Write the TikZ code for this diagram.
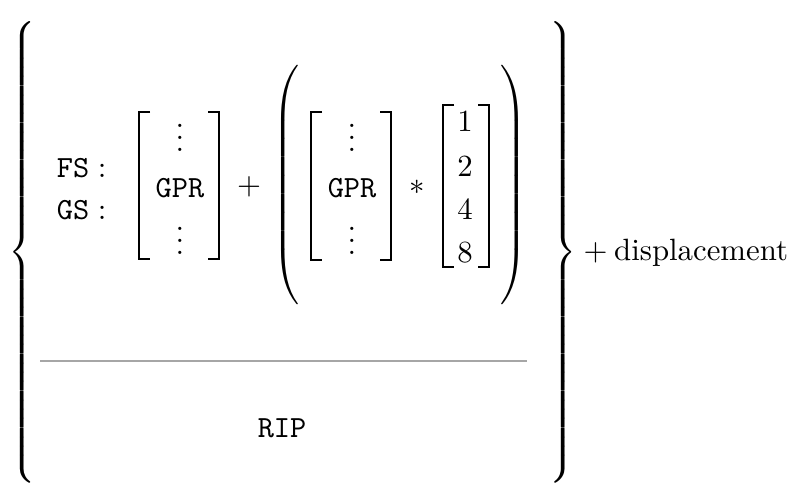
\documentclass[tikz,border=0pt]{standalone}
\usepackage{amsmath}
\newcommand{\mydelim}[2]{$\delimiterfactor=1000\delimitershortfall=0pt\nulldelimiterspace=0pt\left#1\vcenter{\hbox{\vrule height #2 width 0pt}}\right.$}
\begin{document}
\begin{tikzpicture}[x=0.3247pt,y=-0.3247pt,
  lbl/.style={inner sep=0pt,outer sep=0pt},
  ttlbl/.style={inner sep=0pt,outer sep=0pt,font=\ttfamily},
  brk/.style={line width=0.8pt,line join=miter,line cap=butt},
  sepline/.style={line width=0.45pt,draw=black!35}]
\useasboundingbox (0,0) rectangle (801,504);
% outer braces
\node[lbl] (lb) at (22.5,252.5) {\mydelim{\{}{150pt}};
\node[lbl] (rb) at (563,252.5) {\mydelim{\}}{150pt}};
\node[lbl,anchor=base west] (disp) at (583.5,261) {$+$\hspace{2.2pt}displacement};
% segment labels
\node[lbl,anchor=base west] (fs) at (57,177.5) {$\texttt{FS}:$};
\node[lbl,anchor=base west] (gs) at (57,219.5) {$\texttt{GS}:$};
% first GPR vector
\draw[brk] (150,112) -- (139,112) -- (139,259) -- (150,259);
\draw[brk] (208,112) -- (219,112) -- (219,259) -- (208,259);
\node[lbl,anchor=base] (v1a) at (180,152) {$\vdots$};
\node[ttlbl,anchor=base] (g1) at (180,197.5) {GPR};
\node[lbl,anchor=base] (v1b) at (180,255) {$\vdots$};
\node[lbl] (plus) at (249,187) {$+$};
% parentheses
\node[lbl] (lp) at (286,185) {\mydelim{(}{76pt}};
\node[lbl] (rp) at (514,185) {\mydelim{)}{76pt}};
% second GPR vector
\draw[brk] (322,112) -- (311,112) -- (311,260) -- (322,260);
\draw[brk] (380,112) -- (391,112) -- (391,260) -- (380,260);
\node[lbl,anchor=base] (v2a) at (352,152) {$\vdots$};
\node[ttlbl,anchor=base] (g2) at (352,197.5) {GPR};
\node[lbl,anchor=base] (v2b) at (352,255) {$\vdots$};
\node[lbl] (ast) at (417,187) {$\ast$};
% scale vector
\draw[brk] (454,105) -- (443,105) -- (443,267) -- (454,267);
\draw[brk] (478,105) -- (489,105) -- (489,267) -- (478,267);
\node[lbl,anchor=base] (n1) at (465,132) {1};
\node[lbl,anchor=base] (n2) at (465,177) {2};
\node[lbl,anchor=base] (n4) at (465,220) {4};
\node[lbl,anchor=base] (n8) at (465,263) {8};
% separator and RIP
\coordinate (sl) at (40,361);
\coordinate (sr) at (527,361);
\draw[sepline] (sl) -- (sr);
\node[ttlbl,anchor=base] (rip) at (282,437.5) {RIP};
\end{tikzpicture}
\end{document}
